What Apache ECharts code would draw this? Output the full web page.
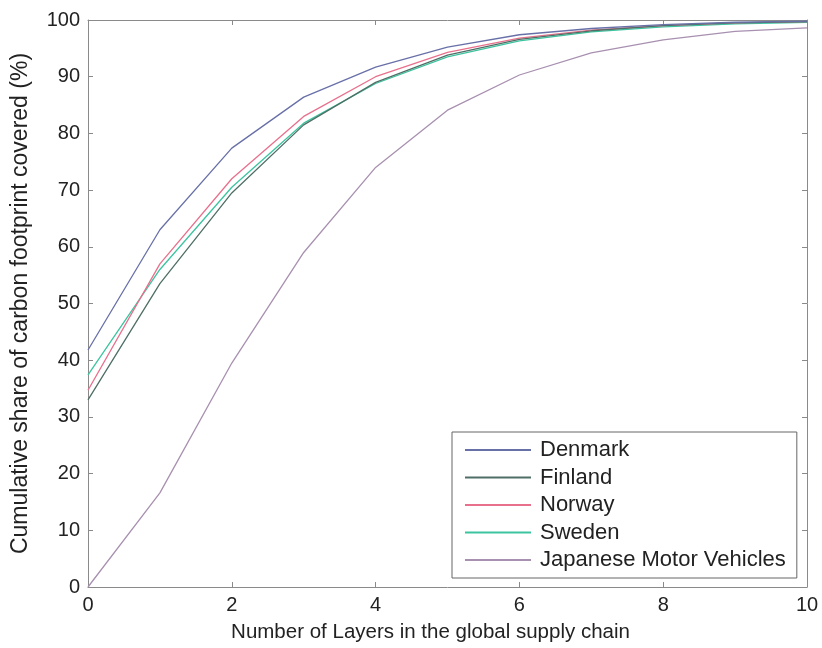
<!DOCTYPE html>
<html>
<head>
<meta charset="utf-8">
<script src="https://cdn.jsdelivr.net/npm/echarts@6/dist/echarts.min.js"></script>
<style>
html,body{margin:0;padding:0;background:#fff;}
#chart{width:822px;height:648px;}
</style>
</head>
<body>
<div id="chart"></div>
<script>
// layers 0..10
var layers=[0,1,2,3,4,5,6,7,8,9,10];
var denmark=[41.8,63,77.4,86.4,91.7,95.2,97.4,98.5,99.2,99.6,99.8];
var finland=[33,53.5,69.5,81.5,89,93.8,96.6,98.1,99,99.5,99.7];
var norway=[34.7,57,72,83,90,94.3,96.8,98.2,99,99.5,99.7];
var sweden=[37.4,56,70.5,81.8,88.8,93.5,96.3,97.9,98.8,99.3,99.6];
var japanMV=[0,16.6,39.5,59,74,84.1,90.3,94.2,96.5,98,98.6];
var names=['Denmark','Finland','Norway','Sweden','Japanese Motor Vehicles'];
var colors=['#6870a8','#4f6f66','#e8708c','#3cc4a0','#a890b0'];
var xTicks=[0,2,4,6,8,10];
var yTicks=[0,10,20,30,40,50,60,70,80,90,100];

var myChart=echarts.init(document.getElementById('chart'));

function pairs(arr){
  return arr.map(function(v,i){return [layers[i],v];});
}
var allData=[denmark,finland,norway,sweden,japanMV];

var axisCol='#8a8a8a';
var fontF='"Liberation Sans", Arial, sans-serif';

var series=allData.map(function(d,i){
  return {
    name:names[i],
    type:'line',
    data:pairs(d),
    symbol:'none',
    lineStyle:{width:1.3,color:colors[i]},
    itemStyle:{color:colors[i]},
    z:10-i
  };
});

var option={
  backgroundColor:'#fff',
  animation:false,
  grid:{left:88,right:15,top:20,bottom:61},
  legend:{
    orient:'vertical',
    left:452,top:432,
    width:345,
    padding:[7,11,7,13],
    icon:'rect',
    itemWidth:66,itemHeight:2,itemGap:5.5,
    borderColor:'#666',borderWidth:1,
    backgroundColor:'#fff',
    textStyle:{fontFamily:fontF,fontSize:22,color:'#222',padding:[0,0,0,4]},
    data:names
  },
  xAxis:[{
    type:'value',min:0,max:10,interval:2,
    name:'Number of Layers in the global supply chain',
    nameLocation:'middle',nameGap:35,
    nameTextStyle:{fontFamily:fontF,fontSize:20.5,color:'#222',padding:[0,34,0,0]},
    axisLine:{onZero:false,lineStyle:{color:axisCol}},
    axisTick:{inside:true,length:5,lineStyle:{color:axisCol}},
    axisLabel:{fontFamily:fontF,fontSize:20,color:'#222',margin:8},
    splitLine:{show:false}
  },{
    type:'value',min:0,max:10,interval:2,position:'top',
    axisLine:{show:true,onZero:false,lineStyle:{color:axisCol}},
    axisTick:{inside:true,length:5,lineStyle:{color:axisCol}},
    axisLabel:{show:false},
    splitLine:{show:false}
  }],
  yAxis:[{
    type:'value',min:0,max:100,interval:10,
    name:'Cumulative share of carbon footprint covered (%)',
    nameLocation:'middle',nameGap:56,
    nameTextStyle:{fontFamily:fontF,fontSize:23,color:'#222'},
    axisLine:{show:true,onZero:false,lineStyle:{color:axisCol}},
    axisTick:{show:true,inside:true,length:5,lineStyle:{color:axisCol}},
    axisLabel:{fontFamily:fontF,fontSize:20,color:'#222',margin:8},
    splitLine:{show:false}
  },{
    type:'value',min:0,max:100,interval:10,position:'right',
    axisLine:{show:true,onZero:false,lineStyle:{color:axisCol}},
    axisTick:{show:true,inside:true,length:5,lineStyle:{color:axisCol}},
    axisLabel:{show:false},
    splitLine:{show:false}
  }],
  series:series
};
myChart.setOption(option);
</script>
</body>
</html>
